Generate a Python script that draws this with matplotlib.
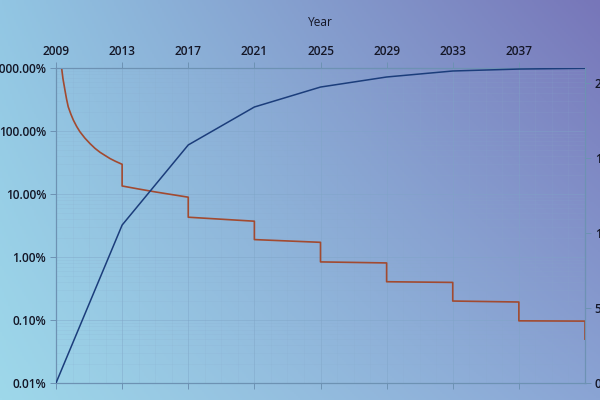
import numpy as np
import matplotlib
matplotlib.use('Agg')
import matplotlib.pyplot as plt
from matplotlib.ticker import FixedLocator, FuncFormatter, LogLocator, MultipleLocator, NullFormatter

plt.rcParams['font.family'] = ['Open Sans', 'DejaVu Sans']
plt.rcParams['font.weight'] = 'semibold'

# ---- data ----
year_ticks = [2009, 2013, 2017, 2021, 2025, 2029, 2033, 2037]

inflation_years = [2009.34, 2009.42, 2009.54, 2009.64, 2009.74, 2009.9, 2010.05, 2010.25, 2010.45,
                   2010.75, 2011.06, 2011.36, 2011.66, 2011.96, 2012.27, 2012.6,
                   2013, 2013, 2014, 2015, 2016, 2017, 2017, 2021, 2021, 2025, 2025,
                   2029, 2029, 2033, 2033, 2037, 2037, 2041, 2041]
inflation_pct = [1000, 680, 447, 320, 242, 185, 149, 118, 97,
                 77, 63, 53, 46, 41, 36.5, 33,
                 29.6, 13.4, 12.0, 10.8, 9.8, 8.9, 4.28, 3.70, 1.89, 1.71, 0.836,
                 0.805, 0.405, 0.395, 0.200, 0.193, 0.097, 0.096, 0.0497]

supply_years = [2009, 2013, 2017, 2021, 2025, 2029, 2033, 2037, 2041]
supply_btc = [0, 10.53e6, 15.87e6, 18.4e6, 19.73e6, 20.4e6, 20.8e6, 20.93e6, 20.98e6]

left_ticks = [0.01, 0.1, 1, 10, 100, 1000]
right_ticks = [0, 5e6, 10e6, 15e6, 20e6]

# ---- styles ----
text_c = '#141626'
spine_c = '#6d92b3'
red_c = '#a24a30'
blue_c = '#1b3d7b'
fs = 8.6

fig = plt.figure(figsize=(6, 4), dpi=100)

# gradient background
bg = fig.add_axes([0, 0, 1, 1], zorder=-10)
tl = np.array([0x92, 0xc6, 0xe3]) / 255
tr = np.array([0x77, 0x76, 0xb9]) / 255
bl = np.array([0x9e, 0xd8, 0xea]) / 255
br = np.array([0x8a, 0xa4, 0xd4]) / 255
h, w = 200, 300
yy, xx = np.mgrid[0:1:h * 1j, 0:1:w * 1j]
img = ((1 - yy)[..., None] * ((1 - xx)[..., None] * tl + xx[..., None] * tr)
       + yy[..., None] * ((1 - xx)[..., None] * bl + xx[..., None] * br))
bg.imshow(img, aspect='auto', extent=[0, 1, 0, 1], origin='upper')
bg.axis('off')

ax = fig.add_axes([56 / 600, 17 / 400, 529 / 600, 315 / 400])
ax.set_facecolor('none')
ax2 = ax.twinx()
ax2.set_facecolor('none')

ax.set_yscale('log')
ax.set_ylim(0.01, 1000)
ax.set_xlim(2009, 2041)
ax.yaxis.set_major_locator(FixedLocator(left_ticks))
ax.yaxis.set_major_formatter(FuncFormatter(lambda v, p: f'{v:.2f}%'))
ax.yaxis.set_minor_locator(LogLocator(base=10, subs=np.arange(2, 10)))
ax.yaxis.set_minor_formatter(NullFormatter())
ax.xaxis.set_major_locator(FixedLocator(year_ticks))
ax.xaxis.set_minor_locator(MultipleLocator(1))
ax.xaxis.set_major_formatter(FuncFormatter(lambda v, p: f'{int(v)}'))

ax.xaxis.set_ticks_position('both')
ax.tick_params(axis='x', which='both', labeltop=True, labelbottom=False)
ax.xaxis.set_label_position('top')
ax.set_xlabel('Year', fontsize=fs, color=text_c, labelpad=14)

ax.grid(True, which='major', color='#7ea4c6', linewidth=0.6, alpha=0.5)
ax.grid(True, which='minor', color='#88aacb', linewidth=0.4, alpha=0.25)

for a in (ax, ax2):
    a.tick_params(which='major', length=4, width=0.7, color=spine_c, labelsize=fs,
                  labelcolor=text_c, pad=3)
    a.tick_params(which='minor', length=0)
    for s in a.spines.values():
        s.set_color(spine_c)
        s.set_linewidth(0.8)

ax2.set_ylim(0, 21e6)
ax2.yaxis.set_major_locator(FixedLocator(right_ticks))
ax2.yaxis.set_major_formatter(FuncFormatter(lambda v, p: f'{int(v):,}'))

ax.plot(inflation_years, inflation_pct, color=red_c, linewidth=1.2, zorder=3)
ax2.plot(supply_years, supply_btc, color=blue_c, linewidth=1.1, zorder=3)

fig.savefig('out.png', dpi=100)
